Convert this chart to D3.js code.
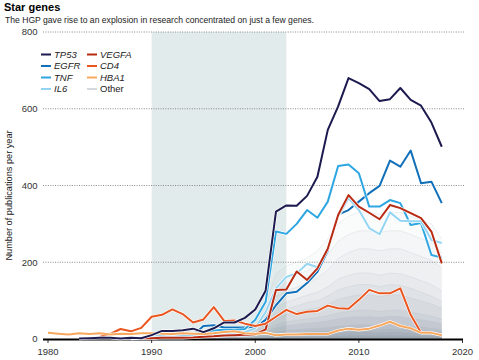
<!DOCTYPE html>
<html><head><meta charset="utf-8">
<script src="https://cdn.jsdelivr.net/npm/d3@7"></script>
<style>
body{margin:0;background:#fff}
svg{display:block}
text{font-family:"Liberation Sans",Arial,sans-serif}
</style></head>
<body><svg id="c" width="479" height="360"></svg>
<script>
// ---------- data ----------
const xTicks = [1980, 1990, 2000, 2010, 2020];
const yTicks = [0, 200, 400, 600, 800];
const hgpStart = 1990, hgpEnd = 2003;

const TP53_start = 1983;
const TP53 = [1,2,3,3,1,3,2, 10,21,21,23,27,18,28,43,43,55, 77,126,332,348,347,373,423,545,606,680, 667,651,620,625,654,623,608,564,501];
const EGFR_start = 1990;
const EGFR = [3,5,6,8,10,34,36,30,30,30, 31,50,88,119,123,146,175,230,324,336, 358,380,399,465,449,491,406,410,354];
const TNF_start = 1988;
const TNF = [2,3, 5,8,10,12,12,20,22,24,24,26, 50,97,280,274,300,336,316,358,451,455, 432,345,345,362,354,297,302,219,212];
const IL6_start = 1988;
const IL6 = [1,2, 3,5,6,8,8,10,12,12,15,18, 28,70,132,162,171,196,187,236,319,367, 336,289,273,330,308,307,307,258,250];
const VEGFA_start = 1989;
const VEGFA = [2, 2,3,3,3,4,6,7,9,10,11, 12,25,128,129,176,154,184,235,323,375, 345,329,312,349,341,328,315,280,197];
const CD4_start = 1985;
const CD4 = [5,13,26,20,29, 58,63,77,65,43,51,83,47,48,40, 34,40,58,76,65,71,73,87,80,79, 102,128,119,119,132,63,16];
const HBA1_start = 1980;
const HBA1 = [16,14,12,15,13,15,12,14,13,15, 15,14,13,15,14,13,15,18,20,15, 13,16,10,12,12,13,13,13,22,27, 24,27,35,45,34,28,16,16,10];

// "Other" genes: distribution envelopes per year, 1990-2018 (read from the grey mass)
const other_start = 1990;
const other_max = [8,9,10,12,13,15,18,20,22,30, 45,90,170,190,200,210,230,260,300,320, 330,330,325,330,330,320,310,300,260];
const other_p99 = [7,7,8,10,11,13,15,17,19,25, 37,75,140,158,168,178,195,220,255,272, 282,282,278,282,282,272,262,252,222];
const other_p97 = [6,6,7,8,9,11,13,14,16,20, 30,60,110,125,135,145,160,180,210,225, 235,235,230,235,235,225,215,205,185];
const other_p93 = [5,5,6,6,7,9,10,11,13,16, 24,46,82,96,105,114,122,136,156,166, 172,172,166,172,170,162,152,142,125];
const other_p90 = [4,4,5,5,6,8,9,10,11,14, 20,38,65,78,86,95,100,112,128,136, 142,142,136,142,140,132,122,112,98];
const other_p85 = [3,4,4,5,5,7,8,8,9,12, 17,31,54,64,70,77,81,90,103,110, 115,115,110,115,114,107,99,91,80];
const other_p75 = [3,3,3,4,4,5,6,6,7,9, 12,22,38,45,49,53,56,61,68,72, 75,75,72,75,75,70,65,60,52];
const other_p65 = [2,2,3,3,3,4,5,5,6,7, 10,17,30,35,38,41,43,47,53,56, 58,58,56,59,58,54,50,46,40];
const other_p50 = [1,2,2,2,2,3,3,4,4,5, 7,11,19,23,25,27,28,30,34,36, 37,37,36,38,37,34,32,28,25];
const other_p35 = [1,1,1,2,2,2,2,3,3,3, 5,8,13,16,17,19,20,21,24,25, 26,26,25,27,26,24,22,20,18];
const other_p25 = [1,1,1,1,1,1,2,2,2,2, 3,5,9,10,11,12,13,14,16,17, 18,18,17,18,18,16,15,13,12];
const other_p10 = [0,0,0,0,1,1,1,1,1,1, 2,3,5,6,6,7,7,8,9,10, 10,10,10,10,10,9,9,8,7];

const genes = [
  {name:"EGFR", start:EGFR_start, values:EGFR, color:"#1170b9"},
  {name:"TNF", start:TNF_start, values:TNF, color:"#2ea6e2"},
  {name:"IL6", start:IL6_start, values:IL6, color:"#94d5f4"},
  {name:"VEGFA", start:VEGFA_start, values:VEGFA, color:"#b92a12"},
  {name:"CD4", start:CD4_start, values:CD4, color:"#e9561f"},
  {name:"HBA1", start:HBA1_start, values:HBA1, color:"#f8a85e"},
  {name:"TP53", start:TP53_start, values:TP53, color:"#1c1a4e"}
];
const legendCol1 = [["TP53","#1c1a4e"],["EGFR","#1170b9"],["TNF","#2ea6e2"],["IL6","#94d5f4"]];
const legendCol2 = [["VEGFA","#b92a12"],["CD4","#e9561f"],["HBA1","#f8a85e"],["Other","#d3d9df"]];

// ---------- chart ----------
const svg = d3.select("#c");
const x = d3.scaleLinear().domain([1980, 2020]).range([48, 462.5]);
const y = d3.scaleLinear().domain([0, 800]).range([339, 32]);

svg.append("text").attr("x", 4).attr("y", 11).attr("font-size", 11).attr("font-weight", "bold").attr("fill", "#000").text("Star genes");
svg.append("text").attr("x", 5).attr("y", 23).attr("font-size", 8.6).attr("fill", "#222").text("The HGP gave rise to an explosion in research concentrated on just a few genes.");

// HGP shading
svg.append("rect").attr("x", x(hgpStart)).attr("y", y(800)).attr("width", x(hgpEnd) - x(hgpStart)).attr("height", y(0) - y(800)).attr("fill", "#e2ebeb");

// gridlines
svg.selectAll(".grid").data(yTicks.filter(d => d > 0)).join("line")
  .attr("x1", 43).attr("x2", 465).attr("y1", d => y(d)).attr("y2", d => y(d))
  .attr("stroke", "#6e6e6e").attr("stroke-width", 0.8).attr("stroke-dasharray", "1,1.4");

// y tick labels
svg.selectAll(".yl").data(yTicks).join("text")
  .attr("x", 37.5).attr("y", d => y(d)).attr("dy", "0.35em").attr("text-anchor", "end")
  .attr("font-size", 9.5).attr("fill", "#333").text(d => d);

svg.append("text").attr("transform", `translate(12,${(y(0)+y(800))/2 + 10}) rotate(-90)`)
  .attr("text-anchor", "middle").attr("font-size", 9.2).attr("fill", "#222").text("Number of publications per year");

// other bands
const bands = [
  {vals: other_max, op: 0.035},
  {vals: other_p99, op: 0.04},
  {vals: other_p97, op: 0.05},
  {vals: other_p93, op: 0.06},
  {vals: other_p90, op: 0.07},
  {vals: other_p85, op: 0.08},
  {vals: other_p75, op: 0.1},
  {vals: other_p65, op: 0.12},
  {vals: other_p50, op: 0.14},
  {vals: other_p35, op: 0.16},
  {vals: other_p25, op: 0.18},
  {vals: other_p10, op: 0.2}
];
const area = d3.area().x(d => x(d[0])).y0(y(0)).y1(d => y(d[1]));
const line = d3.line().x(d => x(d[0])).y(d => y(d[1]));
bands.forEach(b => {
  const pts = b.vals.map((v, i) => [other_start + i, v]);
  svg.append("path").attr("d", area(pts)).attr("fill", "#7d8c9b").attr("fill-opacity", b.op);
  svg.append("path").attr("d", line(pts)).attr("fill", "none").attr("stroke", "#b4bdc6").attr("stroke-opacity", 0.45).attr("stroke-width", 0.5);
});

// baseline axis
svg.append("line").attr("x1", 43).attr("x2", 463).attr("y1", y(0)+0.5).attr("y2", y(0)+0.5).attr("stroke", "#000").attr("stroke-width", 2);
svg.selectAll(".xt").data(xTicks).join("line")
  .attr("x1", d => x(d)).attr("x2", d => x(d)).attr("y1", y(0)).attr("y2", y(0) + 4)
  .attr("stroke", "#000").attr("stroke-width", 0.8);
svg.selectAll(".xl").data(xTicks).join("text")
  .attr("x", d => x(d)).attr("y", 354.5).attr("text-anchor", "middle")
  .attr("font-size", 9.5).attr("fill", "#333").text(d => d);

// gene lines
genes.forEach(g => {
  const pts = g.values.map((v, i) => [g.start + i, v]);
  svg.append("path").attr("d", line(pts)).attr("fill", "none").attr("stroke", "#fff").attr("stroke-width", 3.2).attr("stroke-linejoin", "round");
  svg.append("path").attr("d", line(pts)).attr("fill", "none").attr("stroke", g.color).attr("stroke-width", 2).attr("stroke-linejoin", "round");
});

// legend
function legendCol(items, lx, tx) {
  items.forEach((it, i) => {
    const yy = 54.5 + i * 11.5;
    svg.append("line").attr("x1", lx).attr("x2", lx + 10).attr("y1", yy).attr("y2", yy).attr("stroke", it[1]).attr("stroke-width", 2);
    svg.append("text").attr("x", tx).attr("y", yy).attr("dy", "0.35em").attr("font-size", 9.5)
      .attr("font-style", it[0] === "Other" ? "normal" : "italic").attr("fill", "#222").text(it[0]);
  });
}
legendCol(legendCol1, 41, 54);
legendCol(legendCol2, 87, 100);
</script></body></html>
